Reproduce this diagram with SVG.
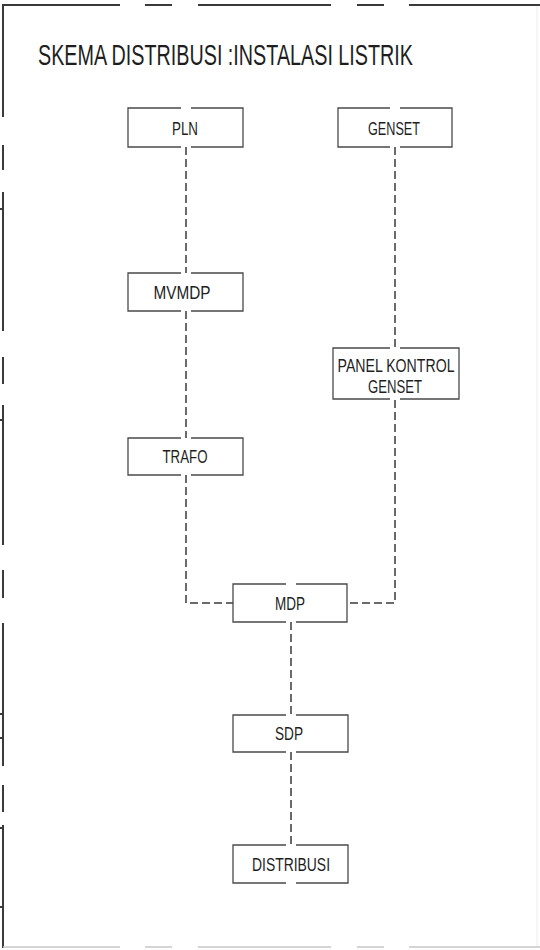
<svg xmlns="http://www.w3.org/2000/svg" width="540" height="950" viewBox="0 0 540 950">
<style>
.frame{fill:none;stroke:#3a3a3a;stroke-width:2}
.frameb{fill:none;stroke:#c8c8c8;stroke-width:1.5}
.box{fill:none;stroke:#4a4a4a;stroke-width:1.3}
.conn{fill:none;stroke:#3a3a3a;stroke-width:1.5;stroke-dasharray:8 4}
.lbl{font-family:"Liberation Sans",Arial,sans-serif;font-size:18px;fill:#1e1e1e;text-anchor:middle}
.title{font-family:"Liberation Sans",Arial,sans-serif;font-size:22px;fill:#1e1e1e}
</style>
<rect x="0" y="0" width="540" height="950" fill="#ffffff"/>
<g id="frame">
<path class="frame" d="M3 5H120M145 5H172M198 5H331M357 5H384M409 5H540"/>
<path class="frame" d="M3 4V117M3 145V170M3 192V331M3 357V384M3 405V545M3 570V598M3 623V766M3 785V812M3 825V948"/>
<path class="frame" stroke-width="1.2" d="M0 209H4M0 420H4M0 714H4M0 738H4M0 828H4M0 907H4"/>
<path class="frameb" d="M3 947H120M145 947H172M198 947H331M357 947H384M409 947H540"/>
<path fill="none" stroke="#ececec" stroke-width="1" d="M537 6V946"/>
</g>
<text class="title" transform="translate(38,65) scale(1,1.36)" x="0" y="0" textLength="375" lengthAdjust="spacingAndGlyphs">SKEMA DISTRIBUSI :INSTALASI LISTRIK</text>
<g id="connectors">
<path class="conn" d="M186 147V273"/>
<path class="conn" d="M186 311V438"/>
<path class="conn" d="M186 475V603H233"/>
<path class="conn" d="M395 147V348"/>
<path class="conn" d="M395 400V603H347"/>
<path class="conn" d="M291 622V715"/>
<path class="conn" d="M291 752V845"/>
</g>
<g id="pln">
<path class="box" d="M181 108H128V147H181M191 147H243V108H191"/>
<text class="lbl" x="185" y="135" textLength="26" lengthAdjust="spacingAndGlyphs">PLN</text>
</g>
<g id="genset">
<path class="box" d="M390 108H338V147H390M400 147H452V108H400"/>
<text class="lbl" x="394" y="135" textLength="52" lengthAdjust="spacingAndGlyphs">GENSET</text>
</g>
<g id="mvmdp">
<path class="box" d="M181 273H128V311H181M191 311H243V273H191"/>
<text class="lbl" x="182" y="299" textLength="57" lengthAdjust="spacingAndGlyphs">MVMDP</text>
</g>
<g id="panel">
<path class="box" d="M390 348H333V399H390M400 399H459V348H400"/>
<text class="lbl" x="396" y="372" textLength="117" lengthAdjust="spacingAndGlyphs">PANEL KONTROL</text>
<text class="lbl" x="395" y="393" textLength="54" lengthAdjust="spacingAndGlyphs">GENSET</text>
</g>
<g id="trafo">
<path class="box" d="M181 438H128V475H181M191 475H243V438H191"/>
<text class="lbl" x="185" y="463" textLength="45" lengthAdjust="spacingAndGlyphs">TRAFO</text>
</g>
<g id="mdp">
<path class="box" d="M286 584H233V622H286M296 622H347V584H296"/>
<text class="lbl" x="290" y="610" textLength="30" lengthAdjust="spacingAndGlyphs">MDP</text>
</g>
<g id="sdp">
<path class="box" d="M286 715H233V752H286M296 752H348V715H296"/>
<text class="lbl" x="289" y="740" textLength="28" lengthAdjust="spacingAndGlyphs">SDP</text>
</g>
<g id="distribusi">
<path class="box" d="M286 845H233V883H286M296 883H348V845H296"/>
<text class="lbl" x="291" y="871" textLength="78" lengthAdjust="spacingAndGlyphs">DISTRIBUSI</text>
</g>
</svg>
